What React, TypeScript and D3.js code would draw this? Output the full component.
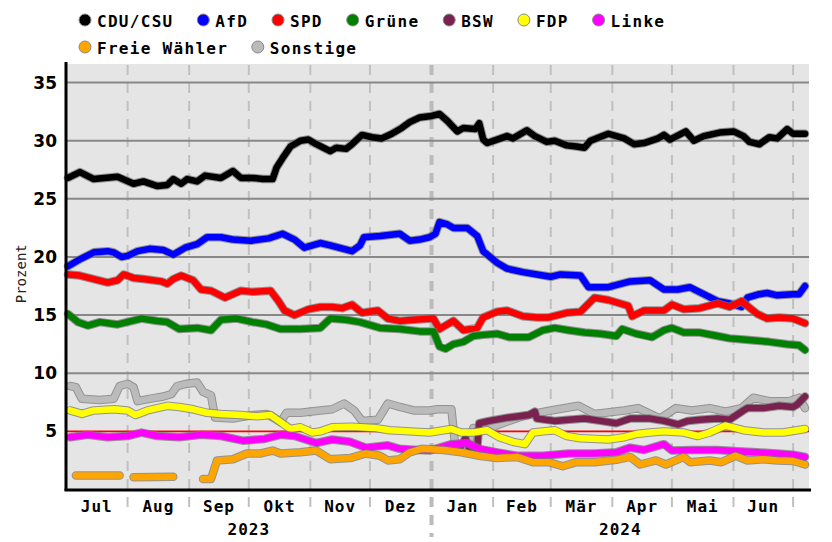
import * as d3 from "d3";

// Umfragetrend Bundestag, Juli 2023 bis Juli 2024 (Werte in Prozent)

const cduCsu: [string, number][] = [
  ["2023-07-02", 26.8], ["2023-07-08", 27.3], ["2023-07-15", 26.7], ["2023-07-27", 26.9],
  ["2023-08-04", 26.3], ["2023-08-09", 26.5], ["2023-08-16", 26.1], ["2023-08-21", 26.2],
  ["2023-08-24", 26.7], ["2023-08-28", 26.3], ["2023-08-31", 26.7], ["2023-09-05", 26.5],
  ["2023-09-09", 27.0], ["2023-09-17", 26.8], ["2023-09-23", 27.4], ["2023-09-27", 26.8],
  ["2023-10-03", 26.8], ["2023-10-08", 26.7], ["2023-10-13", 26.7], ["2023-10-15", 27.7],
  ["2023-10-18", 28.5], ["2023-10-20", 29.0], ["2023-10-22", 29.5], ["2023-10-27", 30.0],
  ["2023-10-31", 30.1], ["2023-11-04", 29.7], ["2023-11-11", 29.1], ["2023-11-14", 29.4],
  ["2023-11-19", 29.3], ["2023-11-22", 29.7], ["2023-11-27", 30.5], ["2023-12-02", 30.3],
  ["2023-12-07", 30.2], ["2023-12-12", 30.6], ["2023-12-17", 31.1], ["2023-12-21", 31.6],
  ["2023-12-26", 32.0], ["2023-12-31", 32.1], ["2024-01-05", 32.3], ["2024-01-09", 31.7],
  ["2024-01-14", 30.8], ["2024-01-17", 31.1], ["2024-01-23", 31.0], ["2024-01-25", 31.5],
  ["2024-01-27", 30.1], ["2024-01-29", 29.8], ["2024-02-03", 30.1], ["2024-02-08", 30.4],
  ["2024-02-11", 30.2], ["2024-02-18", 30.9], ["2024-02-22", 30.4], ["2024-02-28", 29.9],
  ["2024-03-03", 30.0], ["2024-03-09", 29.6], ["2024-03-14", 29.5], ["2024-03-18", 29.4],
  ["2024-03-21", 30.0], ["2024-03-30", 30.6], ["2024-04-07", 30.2], ["2024-04-12", 29.7],
  ["2024-04-17", 29.8], ["2024-04-24", 30.2], ["2024-04-27", 30.5], ["2024-04-30", 30.1],
  ["2024-05-08", 30.8], ["2024-05-12", 30.0], ["2024-05-17", 30.4], ["2024-05-25", 30.7],
  ["2024-06-01", 30.8], ["2024-06-06", 30.4], ["2024-06-09", 29.9], ["2024-06-14", 29.7],
  ["2024-06-19", 30.3], ["2024-06-23", 30.2], ["2024-06-28", 31.0], ["2024-07-01", 30.6],
  ["2024-07-07", 30.6],
];

const afd: [string, number][] = [
  ["2023-07-02", 19.2], ["2023-07-08", 19.8], ["2023-07-15", 20.4], ["2023-07-22", 20.5],
  ["2023-07-25", 20.4], ["2023-07-29", 20.0], ["2023-08-01", 20.1], ["2023-08-06", 20.5],
  ["2023-08-12", 20.7], ["2023-08-19", 20.6], ["2023-08-24", 20.2], ["2023-08-30", 20.8],
  ["2023-09-05", 21.1], ["2023-09-10", 21.7], ["2023-09-17", 21.7], ["2023-09-23", 21.5],
  ["2023-10-02", 21.4], ["2023-10-11", 21.6], ["2023-10-18", 22.0], ["2023-10-24", 21.5],
  ["2023-10-29", 20.8], ["2023-11-06", 21.2], ["2023-11-11", 21.0], ["2023-11-22", 20.5],
  ["2023-11-26", 21.0], ["2023-11-28", 21.7], ["2023-12-06", 21.8], ["2023-12-16", 22.0],
  ["2023-12-21", 21.4], ["2023-12-26", 21.5], ["2023-12-31", 21.7], ["2024-01-03", 22.0],
  ["2024-01-05", 23.0], ["2024-01-09", 22.8], ["2024-01-12", 22.5], ["2024-01-19", 22.5],
  ["2024-01-24", 21.8], ["2024-01-27", 20.5], ["2024-02-03", 19.5], ["2024-02-08", 19.0],
  ["2024-02-16", 18.7], ["2024-02-23", 18.5], ["2024-03-01", 18.3], ["2024-03-06", 18.5],
  ["2024-03-16", 18.4], ["2024-03-20", 17.4], ["2024-03-30", 17.4], ["2024-04-10", 17.9],
  ["2024-04-20", 18.0], ["2024-04-27", 17.2], ["2024-05-04", 17.2], ["2024-05-10", 17.4],
  ["2024-05-17", 16.8], ["2024-05-24", 16.2], ["2024-05-30", 16.0], ["2024-06-05", 15.7],
  ["2024-06-08", 16.5], ["2024-06-14", 16.8], ["2024-06-18", 16.9], ["2024-06-23", 16.7],
  ["2024-07-01", 16.8], ["2024-07-04", 16.8], ["2024-07-07", 17.5],
];

const spd: [string, number][] = [
  ["2023-07-02", 18.5], ["2023-07-08", 18.4], ["2023-07-15", 18.1], ["2023-07-22", 17.8],
  ["2023-07-27", 18.0], ["2023-07-30", 18.5], ["2023-08-04", 18.2], ["2023-08-09", 18.1],
  ["2023-08-18", 17.9], ["2023-08-21", 17.7], ["2023-08-24", 18.1], ["2023-08-28", 18.4],
  ["2023-09-03", 18.0], ["2023-09-07", 17.2], ["2023-09-12", 17.1], ["2023-09-19", 16.5],
  ["2023-09-27", 17.1], ["2023-10-03", 17.0], ["2023-10-12", 17.1], ["2023-10-16", 16.2],
  ["2023-10-19", 15.4], ["2023-10-24", 15.0], ["2023-10-31", 15.5], ["2023-11-06", 15.7],
  ["2023-11-12", 15.7], ["2023-11-17", 15.6], ["2023-11-22", 15.9], ["2023-11-27", 15.2],
  ["2023-12-05", 15.4], ["2023-12-10", 14.7], ["2023-12-16", 14.5], ["2023-12-23", 14.6],
  ["2024-01-02", 14.7], ["2024-01-05", 13.8], ["2024-01-12", 14.5], ["2024-01-17", 13.7],
  ["2024-01-24", 13.9], ["2024-01-27", 14.8], ["2024-02-03", 15.3], ["2024-02-08", 15.4],
  ["2024-02-16", 14.9], ["2024-02-23", 14.8], ["2024-02-29", 14.8], ["2024-03-09", 15.2],
  ["2024-03-16", 15.3], ["2024-03-23", 16.5], ["2024-03-30", 16.3], ["2024-04-09", 15.8],
  ["2024-04-11", 14.9], ["2024-04-17", 15.4], ["2024-04-27", 15.4], ["2024-05-01", 15.9],
  ["2024-05-07", 15.5], ["2024-05-15", 15.6], ["2024-05-24", 16.0], ["2024-05-30", 15.7],
  ["2024-06-05", 16.2], ["2024-06-13", 15.1], ["2024-06-18", 14.7], ["2024-06-24", 14.8],
  ["2024-07-01", 14.7], ["2024-07-07", 14.3],
];

const gruene: [string, number][] = [
  ["2023-07-02", 15.1], ["2023-07-07", 14.4], ["2023-07-12", 14.1], ["2023-07-18", 14.4],
  ["2023-07-27", 14.2], ["2023-08-08", 14.7], ["2023-08-16", 14.5], ["2023-08-21", 14.4],
  ["2023-08-27", 13.8], ["2023-09-05", 13.9], ["2023-09-12", 13.7], ["2023-09-17", 14.6],
  ["2023-09-25", 14.7], ["2023-10-03", 14.4], ["2023-10-10", 14.2], ["2023-10-17", 13.8],
  ["2023-10-27", 13.8], ["2023-11-06", 13.9], ["2023-11-11", 14.7], ["2023-11-19", 14.6],
  ["2023-11-26", 14.4], ["2023-12-06", 13.9], ["2023-12-16", 13.8], ["2023-12-26", 13.6],
  ["2024-01-02", 13.6], ["2024-01-05", 12.3], ["2024-01-08", 12.1], ["2024-01-12", 12.5],
  ["2024-01-17", 12.7], ["2024-01-22", 13.2], ["2024-01-27", 13.3], ["2024-02-03", 13.4],
  ["2024-02-09", 13.1], ["2024-02-19", 13.1], ["2024-02-26", 13.7], ["2024-03-03", 13.9],
  ["2024-03-10", 13.7], ["2024-03-18", 13.5], ["2024-03-26", 13.4], ["2024-04-03", 13.2],
  ["2024-04-06", 13.8], ["2024-04-13", 13.4], ["2024-04-21", 13.1], ["2024-04-27", 13.7],
  ["2024-05-01", 13.9], ["2024-05-07", 13.5], ["2024-05-15", 13.5], ["2024-05-24", 13.2],
  ["2024-05-30", 13.0], ["2024-06-06", 12.9], ["2024-06-13", 12.8], ["2024-06-19", 12.7],
  ["2024-06-28", 12.5], ["2024-07-04", 12.4], ["2024-07-07", 12.0],
];

const bsw: [string, number][] = [
  ["2024-01-12", 3.5], ["2024-01-15", 3.5], ["2024-01-18", 4.4], ["2024-01-20", 3.6],
  ["2024-01-24", 3.5], ["2024-01-25", 5.7], ["2024-01-30", 5.9], ["2024-02-09", 6.2],
  ["2024-02-19", 6.4], ["2024-02-22", 6.7], ["2024-02-23", 6.1], ["2024-03-03", 5.9],
  ["2024-03-10", 6.0], ["2024-03-18", 6.1], ["2024-03-26", 5.9], ["2024-04-03", 5.7],
  ["2024-04-10", 6.1], ["2024-04-20", 6.1], ["2024-04-27", 5.9], ["2024-05-04", 5.6],
  ["2024-05-09", 5.9], ["2024-05-15", 6.0], ["2024-05-24", 6.1], ["2024-05-30", 6.0],
  ["2024-06-06", 6.8], ["2024-06-08", 7.0], ["2024-06-16", 7.0], ["2024-06-24", 7.2],
  ["2024-07-01", 7.1], ["2024-07-03", 7.3], ["2024-07-07", 8.0],
];

const fdp: [string, number][] = [
  ["2023-07-03", 6.8], ["2023-07-09", 6.5], ["2023-07-15", 6.8], ["2023-07-25", 6.9],
  ["2023-08-01", 6.8], ["2023-08-05", 6.4], ["2023-08-11", 6.8], ["2023-08-21", 7.2],
  ["2023-08-27", 7.1], ["2023-09-03", 6.9], ["2023-09-10", 6.6], ["2023-09-17", 6.5],
  ["2023-09-27", 6.4], ["2023-10-05", 6.3], ["2023-10-12", 6.4], ["2023-10-17", 5.8],
  ["2023-10-22", 5.2], ["2023-10-27", 5.35], ["2023-11-02", 4.9], ["2023-11-06", 5.0],
  ["2023-11-12", 5.35], ["2023-11-22", 5.4], ["2023-12-03", 5.3], ["2023-12-11", 5.1],
  ["2023-12-21", 5.0], ["2023-12-31", 4.9], ["2024-01-11", 5.2], ["2024-01-16", 4.9],
  ["2024-01-22", 4.9], ["2024-01-29", 5.1], ["2024-02-04", 4.5], ["2024-02-11", 4.1],
  ["2024-02-17", 3.9], ["2024-02-21", 4.9], ["2024-02-26", 5.0], ["2024-03-03", 5.1],
  ["2024-03-09", 4.6], ["2024-03-16", 4.4], ["2024-03-30", 4.3], ["2024-04-07", 4.5],
  ["2024-04-14", 4.8], ["2024-04-20", 4.9], ["2024-04-27", 5.0], ["2024-05-07", 4.9],
  ["2024-05-14", 4.6], ["2024-05-20", 4.9], ["2024-05-28", 5.5], ["2024-06-06", 5.1],
  ["2024-06-16", 4.9], ["2024-06-26", 4.9], ["2024-07-03", 5.1], ["2024-07-07", 5.2],
];

const linke: [string, number][] = [
  ["2023-07-03", 4.5], ["2023-07-12", 4.7], ["2023-07-22", 4.5], ["2023-08-01", 4.6],
  ["2023-08-08", 4.9], ["2023-08-16", 4.6], ["2023-08-27", 4.5], ["2023-09-07", 4.7],
  ["2023-09-17", 4.6], ["2023-09-28", 4.2], ["2023-10-09", 4.35], ["2023-10-17", 4.7],
  ["2023-10-24", 4.6], ["2023-11-04", 4.0], ["2023-11-12", 4.3], ["2023-11-21", 4.1],
  ["2023-11-29", 3.6], ["2023-12-10", 3.8], ["2023-12-16", 3.5], ["2023-12-25", 3.4],
  ["2023-12-31", 3.35], ["2024-01-11", 3.9], ["2024-01-19", 4.0], ["2024-01-25", 3.5],
  ["2024-02-03", 3.2], ["2024-02-13", 2.9], ["2024-02-26", 2.9], ["2024-03-10", 3.1],
  ["2024-03-23", 3.1], ["2024-04-03", 3.2], ["2024-04-10", 3.6], ["2024-04-17", 3.4],
  ["2024-04-27", 3.9], ["2024-05-01", 3.35], ["2024-05-11", 3.4], ["2024-05-24", 3.4],
  ["2024-06-03", 3.3], ["2024-06-13", 3.2], ["2024-06-23", 3.1], ["2024-07-01", 3.0],
  ["2024-07-07", 2.8],
];

// null = keine Werte (Lücke in der Linie)
const freieWaehler: [string, number | null][] = [
  ["2023-07-06", 1.2], ["2023-07-28", 1.2], ["2023-07-31", null],
  ["2023-08-04", 1.05], ["2023-08-24", 1.1], ["2023-08-30", null],
  ["2023-09-08", 0.9], ["2023-09-12", 0.9], ["2023-09-15", 2.5], ["2023-09-23", 2.6],
  ["2023-09-30", 3.1], ["2023-10-07", 3.1], ["2023-10-13", 3.35], ["2023-10-17", 3.1],
  ["2023-10-27", 3.2], ["2023-11-04", 3.35], ["2023-11-11", 2.6], ["2023-11-21", 2.7],
  ["2023-11-29", 3.1], ["2023-12-06", 2.9], ["2023-12-10", 2.5], ["2023-12-16", 2.6],
  ["2023-12-21", 3.2], ["2023-12-27", 3.5], ["2024-01-07", 3.4], ["2024-01-16", 3.2],
  ["2024-01-25", 2.9], ["2024-02-03", 2.7], ["2024-02-13", 2.8], ["2024-02-21", 2.35],
  ["2024-02-29", 2.35], ["2024-03-07", 2.0], ["2024-03-14", 2.35], ["2024-03-23", 2.35],
  ["2024-04-03", 2.55], ["2024-04-10", 2.8], ["2024-04-15", 2.15], ["2024-04-23", 2.5],
  ["2024-04-28", 2.15], ["2024-05-07", 2.8], ["2024-05-10", 2.35], ["2024-05-20", 2.5],
  ["2024-05-26", 2.35], ["2024-06-02", 2.9], ["2024-06-08", 2.5], ["2024-06-16", 2.6],
  ["2024-06-23", 2.5], ["2024-07-01", 2.45], ["2024-07-07", 2.15],
];

const sonstige: [string, number][] = [
  ["2023-07-03", 8.9], ["2023-07-06", 8.8], ["2023-07-09", 7.8], ["2023-07-18", 7.7],
  ["2023-07-25", 7.8], ["2023-07-28", 8.9], ["2023-08-01", 9.1], ["2023-08-04", 8.8],
  ["2023-08-06", 7.6], ["2023-08-12", 7.8], ["2023-08-19", 8.0], ["2023-08-23", 8.2],
  ["2023-08-26", 8.9], ["2023-08-31", 9.1], ["2023-09-05", 9.2], ["2023-09-08", 8.4],
  ["2023-09-12", 8.1], ["2023-09-14", 6.2], ["2023-09-23", 6.1], ["2023-10-03", 6.4],
  ["2023-10-10", 6.5], ["2023-10-13", 6.2], ["2023-10-17", 5.8], ["2023-10-20", 6.6],
  ["2023-10-27", 6.6], ["2023-11-06", 6.8], ["2023-11-12", 6.9], ["2023-11-18", 7.4],
  ["2023-11-23", 6.8], ["2023-11-27", 5.9], ["2023-12-05", 6.0], ["2023-12-10", 7.4],
  ["2023-12-16", 7.1], ["2023-12-23", 6.8], ["2023-12-31", 6.8], ["2024-01-04", 6.9],
  ["2024-01-11", 6.9], ["2024-01-13", 3.6], ["2024-01-19", 3.6], ["2024-01-22", 5.3],
  ["2024-01-30", 5.2], ["2024-02-04", 5.6], ["2024-02-14", 6.2], ["2024-02-21", 6.5],
  ["2024-03-01", 6.8], ["2024-03-15", 7.2], ["2024-03-23", 6.5], ["2024-04-07", 6.8],
  ["2024-04-14", 7.0], ["2024-04-25", 6.1], ["2024-05-03", 7.0], ["2024-05-11", 6.8],
  ["2024-05-20", 7.0], ["2024-05-28", 6.7], ["2024-06-05", 7.0], ["2024-06-11", 7.9],
  ["2024-06-19", 7.6], ["2024-06-29", 7.6], ["2024-07-04", 7.9], ["2024-07-07", 7.0],
];

const legendRow1 = ["CDU/CSU", "AfD", "SPD", "Grüne", "BSW", "FDP", "Linke"];
const legendRow2 = ["Freie Wähler", "Sonstige"];
const monthLabels = ["Jul", "Aug", "Sep", "Okt", "Nov", "Dez", "Jan", "Feb", "Mär", "Apr", "Mai", "Jun"];
const yearLabels = ["2023", "2024"];
const yTicks = [5, 10, 15, 20, 25, 30, 35];
const threshold = 5;

const COLORS: Record<string, string> = {
  "CDU/CSU": "#000000",
  AfD: "#0000ff",
  SPD: "#ff0000",
  "Grüne": "#008000",
  BSW: "#7b2150",
  FDP: "#ffff00",
  Linke: "#ff00ff",
  "Freie Wähler": "#ffa500",
  Sonstige: "#bbbbbb",
};

const SERIES: Record<string, [string, number | null][]> = {
  "CDU/CSU": cduCsu,
  AfD: afd,
  SPD: spd,
  "Grüne": gruene,
  BSW: bsw,
  FDP: fdp,
  Linke: linke,
  "Freie Wähler": freieWaehler,
  Sonstige: sonstige,
};

// drawing order (later = on top)
const DRAW_ORDER = ["Sonstige", "BSW", "CDU/CSU", "AfD", "SPD", "Grüne", "FDP", "Linke", "Freie Wähler"];

const W = 832;
const H = 542;
const PLOT = { left: 66, right: 809, top: 64, bottom: 489.5 };
const MONO = "'DejaVu Sans Mono', monospace";
const SANS = "'DejaVu Sans', sans-serif";

const parse = d3.timeParse("%Y-%m-%d");

export default function App() {
  const start = parse("2023-07-01")!;
  const end = parse("2024-07-09")!;
  const x = d3.scaleTime().domain([start, end]).range([PLOT.left, PLOT.right]);
  const y = d3.scaleLinear().domain([0, 36.6]).range([PLOT.bottom, PLOT.top]);

  const line = d3
    .line<[string, number | null]>()
    .defined((d) => d[1] != null)
    .x((d) => x(parse(d[0])!))
    .y((d) => y(d[1] as number));

  const monthStarts = d3.timeMonth.range(start, end); // Jul 1 2023 .. Jul 1 2024
  const boundaries = monthStarts.slice(1);
  const labelMonths = monthStarts.slice(0, monthLabels.length);
  const yearStarts = [start, parse("2024-01-01")!];

  const charW = 10.9;
  const layoutRow = (items: string[], x0: number) => {
    let cx = x0;
    return items.map((name) => {
      const item = { name, cx };
      cx += 12 + name.length * charW + 30;
      return item;
    });
  };
  const row1 = layoutRow(legendRow1, 85);
  const row2 = layoutRow(legendRow2, 85);

  return (
    <svg
      width={W}
      height={H}
      viewBox={`0 0 ${W} ${H}`}
      style={{ position: "absolute", left: 0, top: 0, background: "#fff" }}
    >
      {/* legend */}
      {[
        { items: row1, yy: 21 },
        { items: row2, yy: 48 },
      ].map(({ items, yy }, ri) => (
        <g key={ri}>
          {items.map((it) => (
            <g key={it.name}>
              <circle cx={it.cx} cy={yy - 1} r={6} fill={COLORS[it.name]} stroke="#888" strokeWidth={1} />
              <text
                x={it.cx + 12}
                y={yy}
                dy="0.35em"
                fontFamily={MONO}
                fontWeight="bold"
                fontSize={16}
                letterSpacing={1.3}
                fill="#000"
              >
                {it.name}
              </text>
            </g>
          ))}
        </g>
      ))}

      {/* plot background */}
      <rect
        x={PLOT.left}
        y={PLOT.top}
        width={PLOT.right - PLOT.left}
        height={PLOT.bottom - PLOT.top}
        fill="#e5e5e5"
      />

      {/* month grid (dashed), year boundary stronger and longer */}
      {boundaries.map((d) => {
        const isYear = d.getMonth() === 0;
        return (
          <line
            key={+d}
            x1={x(d)}
            x2={x(d)}
            y1={PLOT.top + 1}
            y2={isYear ? 537 : 507}
            stroke={isYear ? "#bbbbbb" : "#c0c0c0"}
            strokeWidth={isYear ? 4 : 2}
            strokeDasharray="10 8"
          />
        );
      })}

      {/* horizontal grid */}
      {yTicks.map((t) => (
        <line
          key={t}
          x1={PLOT.left}
          x2={PLOT.right}
          y1={y(t)}
          y2={y(t)}
          stroke={t === threshold ? "#ff0000" : "#888888"}
          strokeWidth={t === threshold ? 1.6 : 2}
        />
      ))}

      {/* series: grey outline underneath, colour on top */}
      {DRAW_ORDER.map((name) => {
        const d = line(SERIES[name]) ?? "";
        return (
          <g key={name} fill="none" strokeLinejoin="round" strokeLinecap="round">
            <path d={d} stroke="#777" strokeOpacity={0.75} strokeWidth={8.5} />
            <path d={d} stroke={COLORS[name]} strokeWidth={6.5} />
          </g>
        );
      })}

      {/* axes */}
      <line x1={PLOT.left} x2={PLOT.left} y1={PLOT.top - 2} y2={PLOT.bottom + 1} stroke="#000" strokeWidth={3} />
      <line x1={PLOT.left - 1.5} x2={PLOT.right + 2} y1={PLOT.bottom + 0.5} y2={PLOT.bottom + 0.5} stroke="#000" strokeWidth={3} />

      {yTicks.map((t) => (
        <text
          key={t}
          x={57}
          y={y(t)}
          dy="0.36em"
          textAnchor="end"
          fontFamily={SANS}
          fontWeight="bold"
          fontSize={17}
          fill="#000"
        >
          {t}
        </text>
      ))}

      <text
        transform={`translate(26,${(PLOT.top + PLOT.bottom) / 2 - 3}) rotate(-90)`}
        textAnchor="middle"
        fontFamily={MONO}
        fontSize={14}
        fill="#222"
      >
        Prozent
      </text>

      {labelMonths.map((d, i) => {
        const mid = (x(d) + x(d3.timeMonth.offset(d, 1))) / 2;
        return (
          <text
            key={+d}
            x={mid}
            y={512}
            textAnchor="middle"
            fontFamily={MONO}
            fontWeight="bold"
            fontSize={16}
            letterSpacing={1}
            fill="#000"
          >
            {monthLabels[i]}
          </text>
        );
      })}

      {yearStarts.map((d, i) => {
        const next = i + 1 < yearStarts.length ? yearStarts[i + 1] : end;
        return (
          <text
            key={yearLabels[i]}
            x={(x(d) + x(next)) / 2}
            y={535}
            textAnchor="middle"
            fontFamily={MONO}
            fontWeight="bold"
            fontSize={16}
            letterSpacing={1}
            fill="#000"
          >
            {yearLabels[i]}
          </text>
        );
      })}
    </svg>
  );
}
